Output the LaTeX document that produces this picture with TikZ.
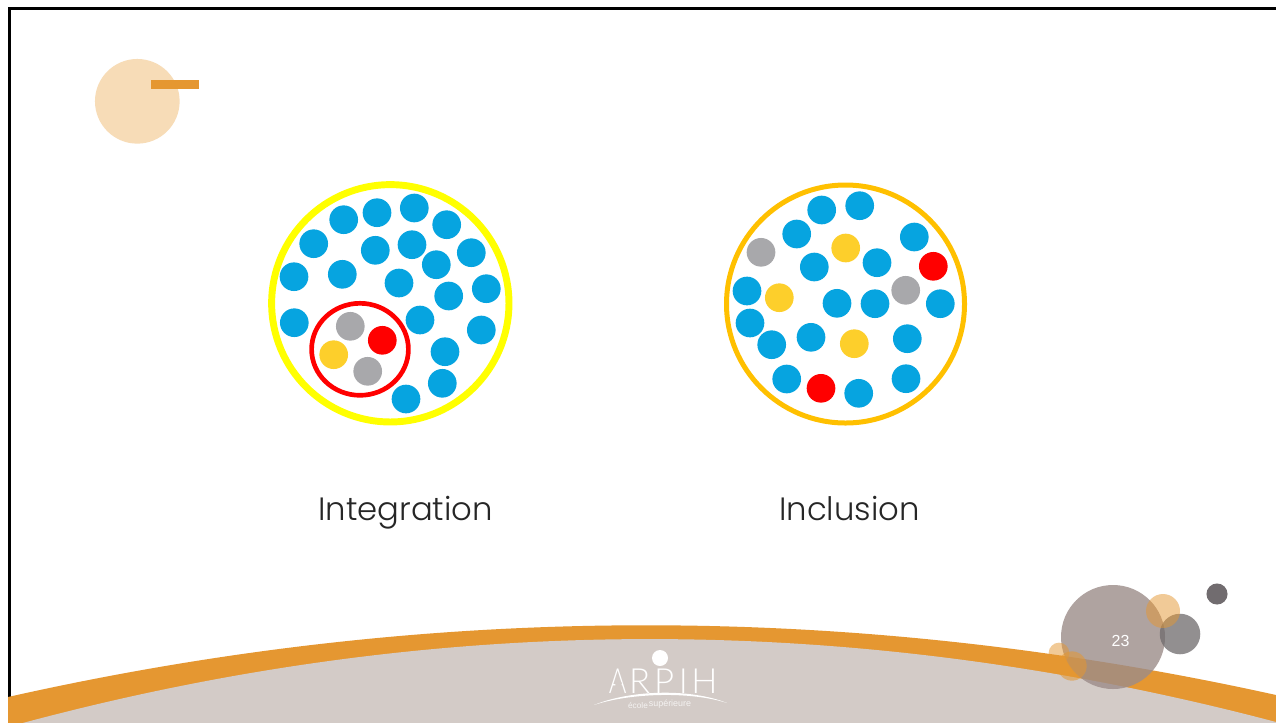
\documentclass[tikz,border=0pt]{standalone}
\usepackage{fontspec}
\usetikzlibrary{shapes.geometric}
\setmainfont{Poppins Light}
\newfontfamily\armfont{Liberation Sans}
\newfontfamily\logofont{Lato Light}
\definecolor{dotblue}{HTML}{06A4E0}
\definecolor{dotgrey}{HTML}{A8A8AB}
\definecolor{dotyellow}{HTML}{FDCF2B}
\definecolor{dotred}{HTML}{FF0000}
\definecolor{ringyellow}{HTML}{FFFF00}
\definecolor{ringamber}{HTML}{FFC000}
\definecolor{bandorange}{HTML}{E59731}
\definecolor{bandgrey}{HTML}{D3CBC7}
\definecolor{paletan}{HTML}{F7DCB7}
\definecolor{bigbubble}{HTML}{9C8C89}
\definecolor{midbubble}{HTML}{6E6A6C}
\definecolor{darkbubble}{HTML}{6A6568}
\tikzset{
 anydot/.style={circle,inner sep=0pt,minimum size=21.5pt},
 bluedot/.style={anydot,fill=dotblue},
 greydot/.style={anydot,fill=dotgrey},
 yellowdot/.style={anydot,fill=dotyellow},
 reddot/.style={anydot,fill=dotred},
 ring/.style={circle,inner sep=0pt,draw=#1},
 caption/.style={font=\fontsize{24.2}{30}\selectfont,text=black!85,inner sep=0pt,anchor=base},
 bubble/.style={circle,inner sep=0pt},
 logotext/.style={text=white,inner sep=0pt,anchor=base},
}
\begin{document}
\begin{tikzpicture}[x=0.75pt,y=-0.75pt]
\useasboundingbox (0,0) rectangle (1276,722);
\clip (0,0) rectangle (1276,722);
\fill[white] (0,0) rectangle (1276,722);
% frame
\draw[black,line width=2.2pt] (9.5,730) -- (9.5,8.5) -- (1290,8.5);
% corner decoration
\node[bubble,fill=paletan,minimum size=63.5pt] (corner) at (137.3,101.3) {};
\fill[bandorange] (151,80) rectangle (199,88.5);
% band
\fill[bandorange] (8,697) .. controls (432,601.7) and (854,601.7) .. (1276,695) -- (1276,730) -- (8,730) -- cycle;
\fill[bandgrey] (8,727) .. controls (432,610.6) and (854,610.6) .. (1276,722) -- (1276,730) -- (8,730) -- cycle;
% left set
\node[ring=ringyellow,line width=5.2pt,minimum size=178pt] (integ) at (390.3,303.3) {};
\foreach \p [count=\n] in {(343.7,219.7),(377,212.7),(414.3,208),(446.7,224.7),(313.7,243.7),(375.3,250.3),(412,244.7),(436.3,264.7),(471.3,252.7),(294,276.7),(342.3,274.3),(399,283),(448.7,296),(486.3,288.7),(294.3,322.7),(420,320),(481.3,330),(445,351.7),(442.3,383.3),(406,399)}
  \node[bluedot] (a\n) at \p {};
\node[ellipse,inner sep=0pt,draw=dotred,line width=3.5pt,minimum width=72.6pt,minimum height=69pt] (sub) at (360,349.3) {};
\node[greydot] (ag1) at (350.3,326.3) {};
\node[greydot] (ag2) at (367.7,371.3) {};
\node[reddot] (ar1) at (382.3,340.3) {};
\node[yellowdot] (ay1) at (333.7,354.7) {};
% right set
\node[ring=ringamber,line width=3.75pt,minimum size=178.5pt] (incl) at (845.5,304) {};
\foreach \p [count=\n] in {(821.7,210),(859.7,205.7),(796.7,234),(914.3,237),(814.3,267),(877,262.7),(747,291),(837,303.3),(875,303.7),(940.3,303.7),(750,323),(771.7,344.7),(811,337.3),(907.3,338.7),(786.7,379),(858.7,393.3),(906,378.7)}
  \node[bluedot] (b\n) at \p {};
\node[greydot] (bg1) at (761,252.3) {};
\node[greydot] (bg2) at (905.7,290.3) {};
\node[yellowdot] (by1) at (845.7,248) {};
\node[yellowdot] (by2) at (779.3,297.7) {};
\node[yellowdot] (by3) at (854.3,343.7) {};
\node[reddot] (br1) at (933.3,266.3) {};
\node[reddot] (br2) at (821,388.3) {};
% captions
\node[caption] (capa) at (405.5,520) {Integration};
\node[caption] (capb) at (849.5,520) {Inclusion};
% bubbles
\node[bubble,fill=bigbubble,fill opacity=.8,minimum size=78pt] (d6) at (1113,637) {};
\node[bubble,fill=darkbubble,fill opacity=.95,minimum size=15.8pt] (d1) at (1217,594) {};
\node[bubble,fill=midbubble,fill opacity=.75,minimum size=30.4pt] (d2) at (1180,634) {};
\node[bubble,fill=bandorange,fill opacity=.5,minimum size=25.5pt] (d3) at (1163,611) {};
\node[bubble,fill=bandorange,fill opacity=.5,minimum size=15.5pt] (d4) at (1059,653) {};
\node[bubble,fill=bandorange,fill opacity=.55,minimum size=22pt] (d5) at (1072,666) {};
\node[font=\armfont\fontsize{12}{14}\selectfont,text=white,inner sep=0pt] (page) at (1120.5,641) {23};
% logo
\node[bubble,fill=white,minimum size=12pt] (sun) at (660,658) {};
\node[logotext,anchor=base west,font=\logofont\fontsize{26}{30}\selectfont] (brand) at (608.5,693) {\scalebox{.78}[1]{A}\hspace{2pt}R\hspace{3pt}P\hspace{3.5pt}I\hspace{2.5pt}H};
\fill[bandgrey] (615.6,682) -- (621.4,682) -- (622,688.5) -- (615.2,688.5) -- cycle;
\fill[white] (594,705) .. controls (630,690) and (690,688) .. (727,703) .. controls (690,691) and (630,693) .. cycle;
\node[logotext,font=\armfont\fontsize{6.2}{7}\selectfont,text opacity=.75] (ecole) at (638,708) {école};
\node[logotext,font=\armfont\fontsize{6.7}{7}\selectfont,text opacity=.75] (sup) at (670,706) {supérieure};
\end{tikzpicture}
\end{document}
